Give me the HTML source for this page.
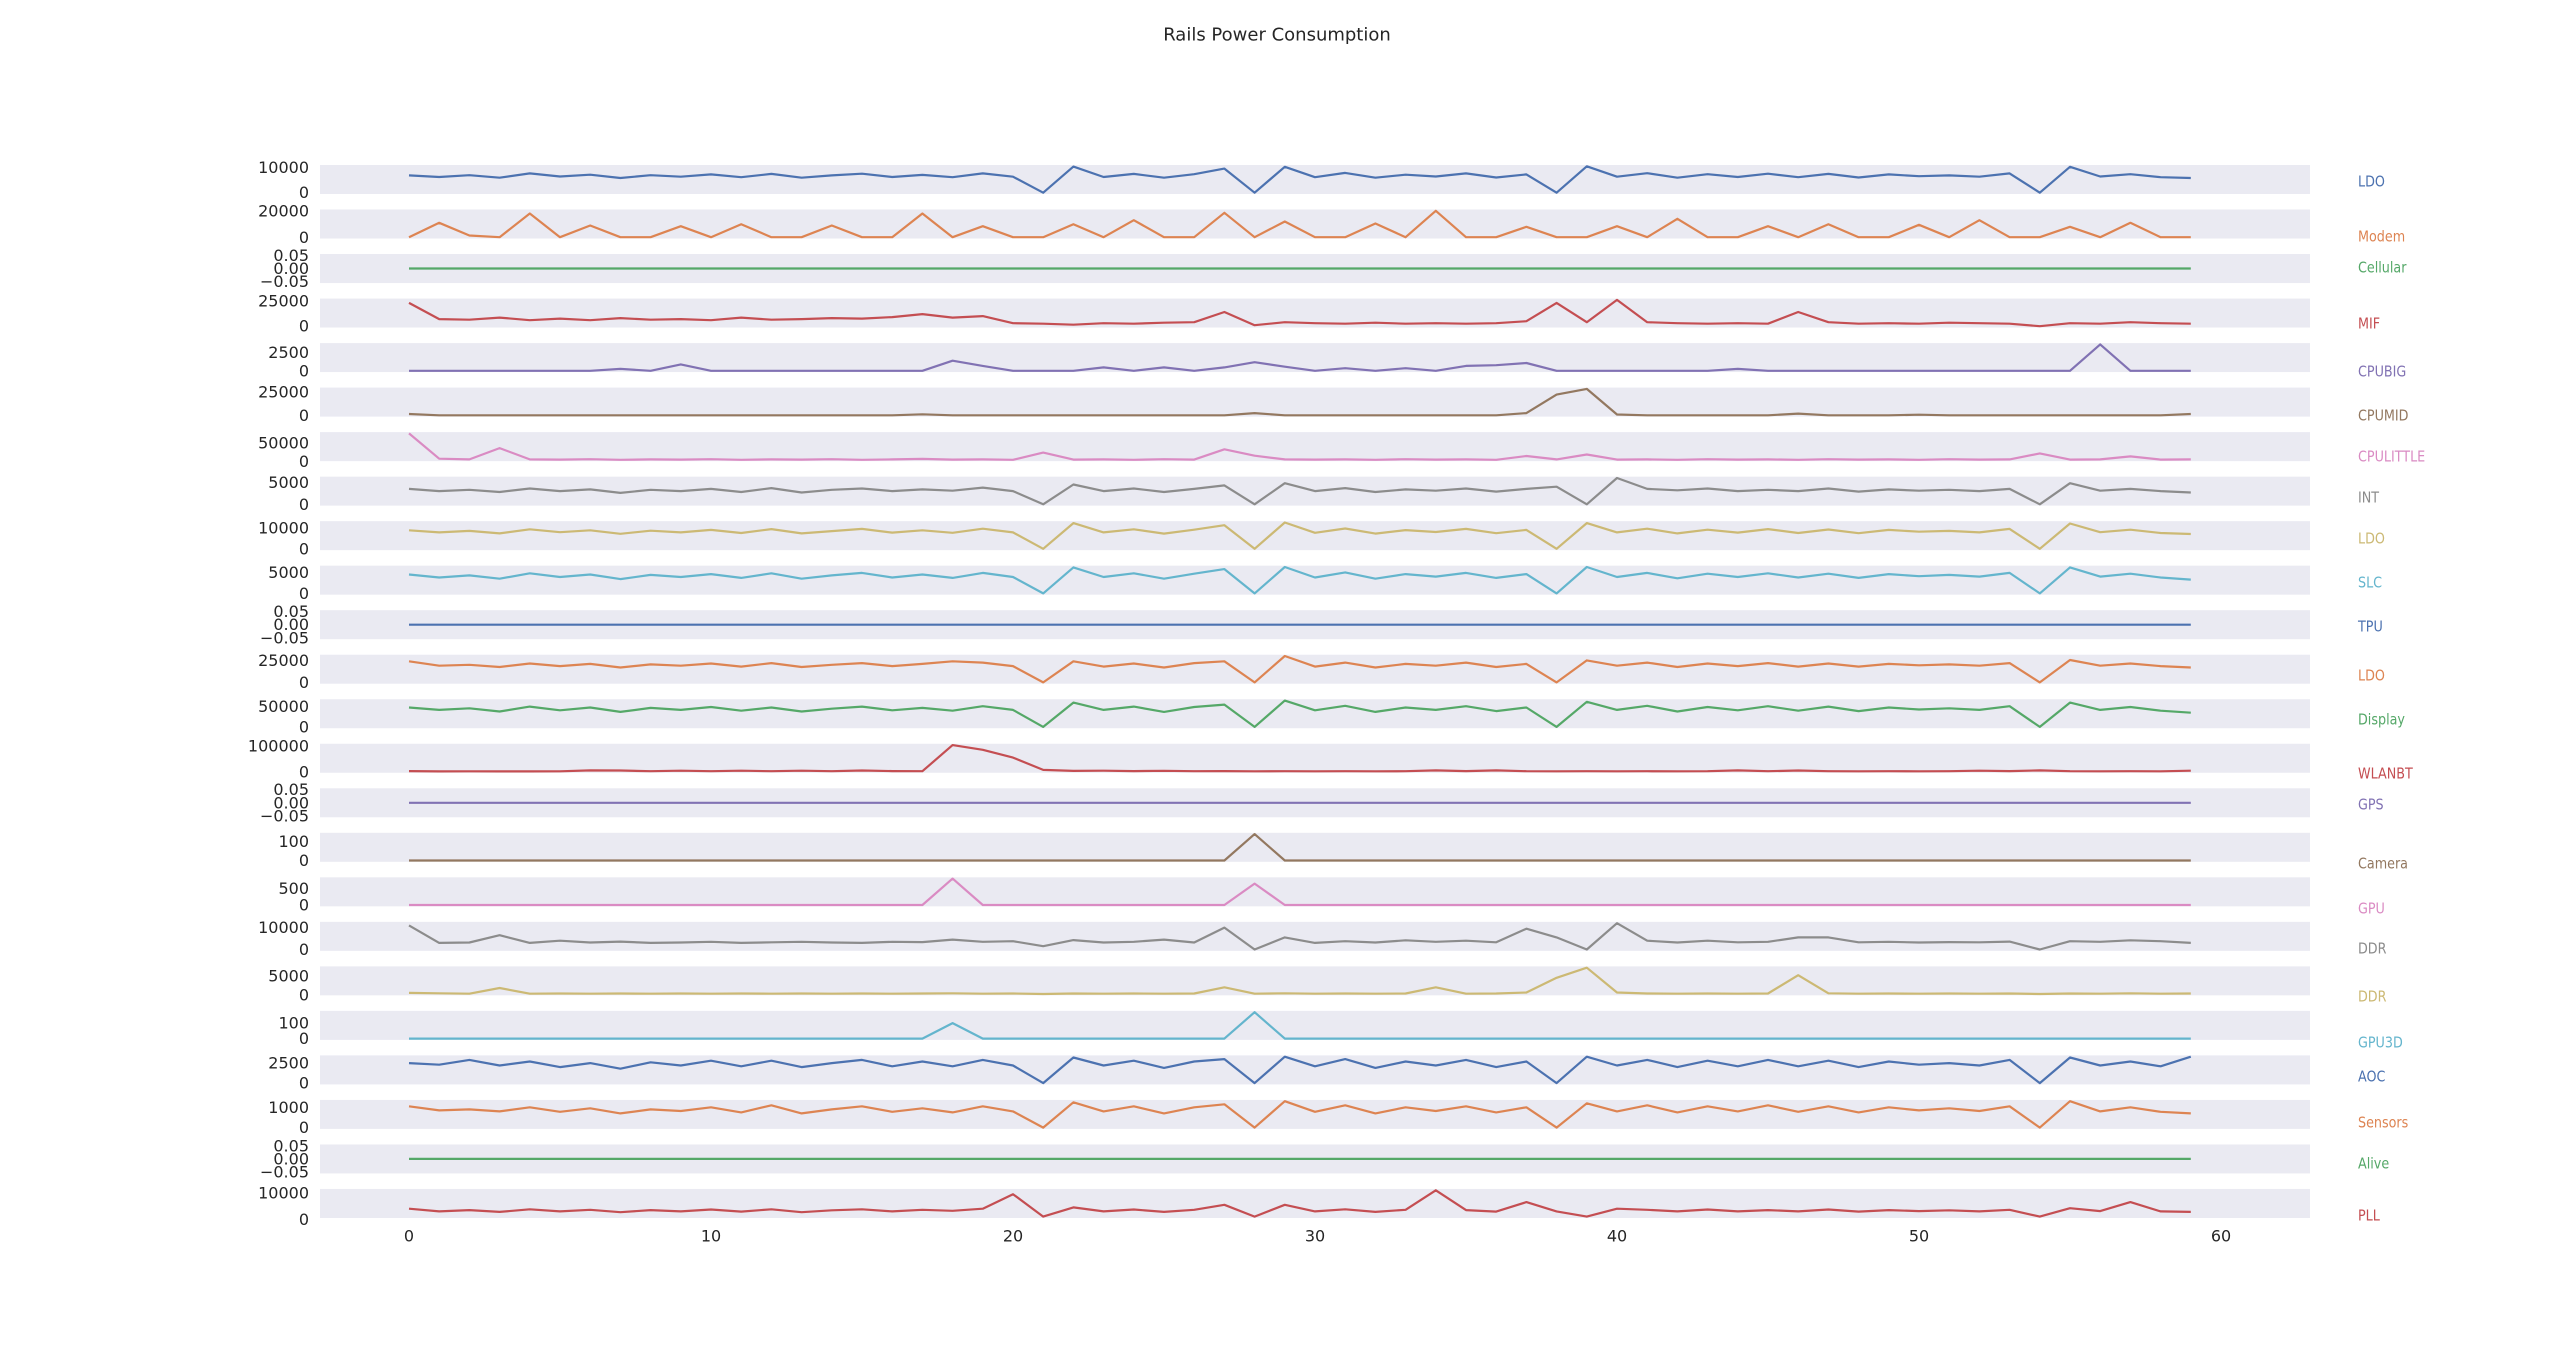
<!DOCTYPE html>
<html><head><meta charset="utf-8"><title>Rails Power Consumption</title>
<style>
html,body{margin:0;padding:0;background:#fff;}
svg{display:block;font-family:"DejaVu Sans","Liberation Sans",sans-serif;}
</style></head>
<body>
<svg id="chart" width="2554" height="1368" viewBox="0 0 2554 1368" xmlns="http://www.w3.org/2000/svg">
<text x="1277" y="35" text-anchor="middle" dominant-baseline="central" font-size="18" fill="#262626">Rails Power Consumption</text>
<g id="panels"></g>
<g id="xaxis"></g>
</svg>
<script>
const times = [0,1,2,3,4,5,6,7,8,9,10,11,12,13,14,15,16,17,18,19,20,21,22,23,24,25,26,27,28,29,30,31,32,33,34,35,36,37,38,39,40,41,42,43,44,45,46,47,48,49,50,51,52,53,54,55,56,57,58,59];
const xTicks = [0,10,20,30,40,50,60];

const ldoA = [6800,6200,6900,5900,7600,6400,7100,5800,6900,6300,7200,6100,7400,5900,6800,7500,6200,7000,6100,7600,6300,0,10300,6200,7400,5900,7300,9500,0,10200,6100,7800,5900,7100,6400,7600,6000,7200,0,10400,6300,7700,5900,7300,6200,7500,6100,7400,6000,7200,6500,6800,6300,7600,0,10200,6400,7300,6100,5800];
const modem = [200,11000,1500,200,18000,200,9000,200,200,8500,200,10000,200,200,9000,200,200,18000,200,8500,200,200,10000,200,13000,200,200,18500,200,12000,200,200,10500,200,20000,200,200,8000,200,200,8500,200,14000,200,200,8500,200,10000,200,200,9500,200,13000,200,200,8000,200,11000,200,200];
const cellular = [0,0,0,0,0,0,0,0,0,0,0,0,0,0,0,0,0,0,0,0,0,0,0,0,0,0,0,0,0,0,0,0,0,0,0,0,0,0,0,0,0,0,0,0,0,0,0,0,0,0,0,0,0,0,0,0,0,0,0,0];
const mif = [23000,7000,6500,8500,6000,7500,6000,8000,6500,7000,6000,8500,6500,7000,8000,7500,9000,12000,8500,10000,3000,2500,1500,3000,2500,3500,4000,14000,1000,4000,3000,2500,3500,2500,3000,2500,3000,5000,23000,4000,26000,4000,3000,2500,3000,2500,14000,4000,2500,3000,2500,3500,3000,2500,0,3000,2500,4000,3000,2500];
const cpuBig = [50,50,50,50,50,50,50,300,50,900,50,50,50,50,50,50,50,50,1400,700,50,50,50,500,50,500,50,500,1200,600,50,400,50,400,50,700,800,1100,50,50,50,50,50,50,300,50,50,50,50,50,50,50,50,50,50,50,3600,50,50,50];
const cpuMid = [1500,200,200,200,200,200,200,200,200,200,200,200,200,200,200,200,200,1200,200,200,200,200,200,200,200,200,200,200,2500,200,200,200,200,200,200,200,200,2500,22000,28000,1000,200,200,200,200,200,2000,200,200,200,800,200,200,200,200,200,200,200,200,1500];
const cpuLittle = [75000,8000,6000,36000,6000,5500,6500,5000,6000,5500,6500,5000,6000,5500,6500,5000,6000,7500,5500,6000,5000,24000,5500,6000,5000,6500,5500,33000,16000,6000,5500,6000,5000,6500,5500,6000,5000,15000,6000,19000,5500,6000,5000,6500,5500,6000,5000,6500,5500,6000,5000,6500,5500,6000,22000,5500,6000,14000,5500,6000];
const intRail = [3500,3000,3300,2800,3600,3000,3400,2600,3300,3000,3500,2800,3700,2700,3300,3600,3000,3400,3100,3800,3000,0,4500,3000,3600,2800,3500,4300,0,4800,3000,3700,2800,3400,3100,3600,2900,3500,4000,0,6000,3500,3200,3600,3000,3300,3000,3600,2900,3400,3100,3300,3000,3500,0,4800,3100,3500,3000,2700];
const ldoB = [9000,8000,8700,7500,9500,8100,9000,7300,8800,8000,9200,7700,9600,7500,8600,9700,7900,9000,7800,9800,8000,0,12500,8000,9500,7400,9300,11500,0,12800,7800,9900,7400,9100,8200,9700,7600,9200,0,12500,8000,9800,7500,9300,7900,9600,7700,9400,7600,9200,8300,8700,8000,9700,0,12300,8100,9300,7700,7200];
const slc = [4500,3800,4300,3500,4800,3900,4500,3400,4400,3900,4600,3700,4800,3500,4300,4900,3800,4500,3700,4900,3900,0,6200,3900,4800,3500,4700,5800,0,6300,3800,5000,3500,4600,4000,4900,3700,4600,0,6300,3900,4900,3600,4700,3900,4800,3800,4700,3700,4600,4100,4400,4000,4900,0,6200,4000,4700,3800,3300];
const tpu = [0,0,0,0,0,0,0,0,0,0,0,0,0,0,0,0,0,0,0,0,0,0,0,0,0,0,0,0,0,0,0,0,0,0,0,0,0,0,0,0,0,0,0,0,0,0,0,0,0,0,0,0,0,0,0,0,0,0,0,0];
const ldoC = [24000,19000,20000,17500,21500,18500,21000,17000,20500,19000,21500,18000,22000,17500,20000,22000,18500,21000,24000,22500,18500,0,24000,18000,21500,17000,22000,24000,0,30000,18000,22500,17000,21000,19000,22500,17500,21000,0,25000,19000,22500,17500,21500,18500,22000,18000,21500,18000,21000,19500,20500,19000,22000,0,25500,19000,21500,18500,17000];
const display = [48000,42000,46000,38000,50000,41000,48000,37000,47000,42000,49000,40000,48000,38000,45000,50000,41000,47000,40000,51000,42000,0,60000,42000,50000,37000,49000,55000,0,65000,41000,52000,37000,48000,42000,51000,39000,48000,0,62000,42000,52000,38000,49000,41000,51000,40000,50000,39000,48000,43000,46000,42000,51000,0,60000,42000,49000,40000,35000];
const wlanbt = [3500,2000,2500,2000,2200,2500,6000,5500,3000,5000,3000,5000,3000,5000,3000,5500,3500,3000,103000,85000,55000,8000,4000,5000,3500,4500,3000,3500,2500,3000,2500,3000,2500,3000,6000,3500,6000,3000,2500,3000,2500,3000,2500,3000,6000,3000,5500,3000,2500,3000,2500,3000,5000,3500,6000,3000,2500,3000,2500,5000];
const gps = [0,0,0,0,0,0,0,0,0,0,0,0,0,0,0,0,0,0,0,0,0,0,0,0,0,0,0,0,0,0,0,0,0,0,0,0,0,0,0,0,0,0,0,0,0,0,0,0,0,0,0,0,0,0,0,0,0,0,0,0];
const camera = [0,0,0,0,0,0,0,0,0,0,0,0,0,0,0,0,0,0,0,0,0,0,0,0,0,0,0,0,140,0,0,0,0,0,0,0,0,0,0,0,0,0,0,0,0,0,0,0,0,0,0,0,0,0,0,0,0,0,0,0];
const gpu = [0,0,0,0,0,0,0,0,0,0,0,0,0,0,0,0,0,0,800,0,0,0,0,0,0,0,0,0,650,0,0,0,0,0,0,0,0,0,0,0,0,0,0,0,0,0,0,0,0,0,0,0,0,0,0,0,0,0,0,0];
const ddrA = [11000,3000,3200,6500,3000,4000,3200,3600,3000,3200,3500,3000,3300,3500,3200,3000,3500,3400,4500,3500,3800,1500,4300,3200,3500,4500,3200,10000,0,5500,3000,3800,3200,4200,3500,4000,3300,9500,5500,0,12000,4000,3200,4000,3300,3500,5500,5500,3300,3500,3200,3400,3300,3600,0,3800,3500,4200,3800,3000];
const ddrB = [500,400,300,1800,300,350,300,350,300,350,300,350,300,350,300,350,300,350,400,300,350,200,350,300,350,300,350,2000,300,400,300,350,300,350,2000,300,350,600,4500,7200,600,350,300,350,300,350,5200,400,300,350,300,350,300,350,200,350,300,400,300,350];
const gpu3d = [0,0,0,0,0,0,0,0,0,0,0,0,0,0,0,0,0,0,100,0,0,0,0,0,0,0,0,0,170,0,0,0,0,0,0,0,0,0,0,0,0,0,0,0,0,0,0,0,0,0,0,0,0,0,0,0,0,0,0,0];
const aoc = [2500,2300,2900,2200,2700,2000,2500,1800,2600,2200,2800,2100,2800,2000,2500,2900,2100,2700,2100,2900,2200,0,3200,2200,2800,1900,2700,3000,0,3300,2100,3000,1900,2700,2200,2900,2000,2700,0,3300,2200,2900,2000,2800,2100,2900,2100,2800,2000,2700,2300,2500,2200,2900,0,3200,2200,2700,2100,3300];
const sensors = [1050,850,900,800,1000,780,950,700,900,820,1000,750,1100,700,900,1050,780,950,750,1050,800,0,1250,800,1050,700,1000,1150,0,1300,780,1100,700,1000,820,1050,750,1000,0,1200,800,1100,750,1050,800,1100,780,1050,750,1000,850,950,820,1050,0,1300,800,1000,780,700];
const alive = [0,0,0,0,0,0,0,0,0,0,0,0,0,0,0,0,0,0,0,0,0,0,0,0,0,0,0,0,0,0,0,0,0,0,0,0,0,0,0,0,0,0,0,0,0,0,0,0,0,0,0,0,0,0,0,0,0,0,0,0];
const pll = [4000,3000,3500,2800,3800,3000,3600,2700,3500,3000,3700,2900,3800,2700,3400,3800,3000,3600,3200,4000,9500,1000,4500,3000,3700,2800,3600,5500,1000,5500,3000,3800,2800,3600,11000,3500,2900,6500,3000,1000,4000,3600,3000,3700,3000,3500,3000,3700,2900,3500,3100,3400,3000,3600,1000,4200,3100,6500,3000,2800];

const railNames = ["LDO","Modem","Cellular","MIF","CPUBIG","CPUMID","CPULITTLE","INT","LDO","SLC","TPU","LDO","Display","WLANBT","GPS","Camera","GPU","DDR","DDR","GPU3D","AOC","Sensors","Alive","PLL"];
const railSeries = [ldoA,modem,cellular,mif,cpuBig,cpuMid,cpuLittle,intRail,ldoB,slc,tpu,ldoC,display,wlanbt,gps,camera,gpu,ddrA,ddrB,gpu3d,aoc,sensors,alive,pll];
const tickSets = [[0,10000],[0,20000],[-0.05,0,0.05],[0,25000],[0,2500],[0,25000],[0,50000],[0,5000],[0,10000],[0,5000],[-0.05,0,0.05],[0,25000],[0,50000],[0,100000],[-0.05,0,0.05],[0,100],[0,500],[0,10000],[0,5000],[0,100],[0,2500],[0,1000],[-0.05,0,0.05],[0,10000]];

const palette = ["#4C72B0","#DD8452","#55A868","#C44E52","#8172B3","#937860","#DA8BC3","#8C8C8C","#CCB974","#64B5CD"];
const labelY = [182,237,268,324,372,416,457,498,539,583,627,676,720,774,805,864,909,949,997,1043,1077,1123,1164,1216];

const NS = "http://www.w3.org/2000/svg";
const X0 = 409, XS = 30.2, BAND_L = 320, BAND_R = 2310, TOP0 = 165, PITCH = 44.52, PH = 29;
function xScale(t){ return X0 + t * XS; }
function mk(tag, attrs){ const e = document.createElementNS(NS, tag); for (const k in attrs) e.setAttribute(k, attrs[k]); return e; }
function fmt(v, isZero){
  if (isZero) { const s = Math.abs(v).toFixed(2); return v < 0 ? "\u2212" + s : s; }
  return String(v);
}

const panels = document.getElementById("panels");
railSeries.forEach((vals, i) => {
  const top = TOP0 + i * PITCH;
  let mn = Math.min(...vals), mx = Math.max(...vals);
  const flat = mn === mx;
  let lo, hi;
  if (flat) { lo = mn - 0.055; hi = mn + 0.055; }
  else { const r = mx - mn; lo = mn - 0.05 * r; hi = mx + 0.05 * r; }
  const yScale = v => top + PH * (hi - v) / (hi - lo);
  const color = palette[i % palette.length];

  const g = mk("g", {});
  
  
  panels.appendChild(g);

  const bg = mk("rect", {x: BAND_L, y: top, width: BAND_R - BAND_L, height: PH, fill: "#EAEAF2"});
  
  
  g.appendChild(bg);

  tickSets[i].forEach(tv => {
    const tx = mk("text", {x: 309, y: yScale(tv), "text-anchor": "end", "dominant-baseline": "central", "font-size": 16, fill: "#262626"});
    tx.textContent = fmt(tv, flat);
    
    
    g.appendChild(tx);
  });

  const pts = vals.map((v, k) => xScale(times[k]).toFixed(1) + "," + yScale(v).toFixed(1)).join(" ");
  const line = mk("polyline", {points: pts, fill: "none", stroke: color, "stroke-width": 2.2, "stroke-linejoin": "round"});
  
  
  g.appendChild(line);

  const lb = mk("text", {x: 0, y: 0, "dominant-baseline": "central", "font-size": 15, fill: color, transform: "translate(2358," + labelY[i] + ") scale(0.85,1)"});
  lb.textContent = railNames[i];
  
  
  g.appendChild(lb);
});

const xa = document.getElementById("xaxis");


xTicks.forEach(t => {
  const tx = mk("text", {x: xScale(t), y: 1236, "text-anchor": "middle", "dominant-baseline": "central", "font-size": 16, fill: "#262626"});
  tx.textContent = String(t);
  
  
  xa.appendChild(tx);
});
</script>
</body></html>
